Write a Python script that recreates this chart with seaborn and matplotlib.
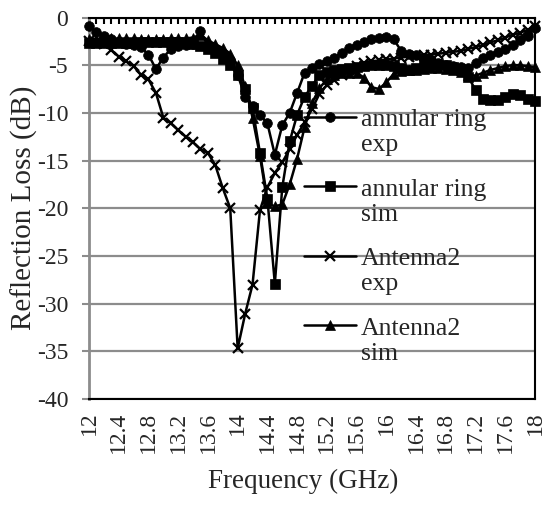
import numpy as np
import pandas as pd
import seaborn as sns
import matplotlib.pyplot as plt
from matplotlib.lines import Line2D
from matplotlib.legend_handler import HandlerLine2D

# === datos ===
freq = np.round(np.linspace(12, 18, 61), 1)

ring_exp = [-0.9, -1.5, -1.9, -2.3, -2.6, -2.8, -2.9, -3.1, -3.9, -5.4,
            -4.2, -3.3, -3.0, -2.9, -2.8, -1.4, -3.0, -3.3, -3.8, -4.5,
            -6.0, -8.3, -9.3, -10.2, -11.1, -14.4, -11.3, -10.0, -7.9, -5.8,
            -5.3, -4.9, -4.6, -4.2, -3.7, -3.2, -2.9, -2.6, -2.3, -2.1,
            -2.0, -2.3, -3.5, -3.8, -3.9, -4.2, -4.5, -4.8, -5.0, -5.1,
            -5.2, -5.3, -4.8, -4.2, -3.9, -3.6, -3.3, -2.9, -2.4, -1.9,
            -1.1]

ring_sim = [-2.7, -2.7, -2.7, -2.7, -2.7, -2.7, -2.7, -2.6, -2.6, -2.6,
            -2.6, -2.6, -2.6, -2.7, -2.8, -3.0, -3.3, -3.7, -4.3, -5.0,
            -6.0, -7.5, -9.5, -14.2, -19.0, -27.9, -17.8, -13.0, -10.2, -8.3,
            -7.2, -6.0, -5.7, -5.5, -5.4, -5.3, -5.2, -5.1, -5.0, -5.0,
            -5.0, -5.1, -5.3, -5.5, -5.3, -5.0, -4.9, -4.9, -5.0, -5.2,
            -5.5, -6.2, -7.6, -8.5, -8.7, -8.6, -8.3, -8.0, -8.1, -8.5,
            -8.8]

ant2_exp = [-2.5, -2.6, -2.8, -3.4, -4.1, -4.6, -5.1, -6.0, -6.5, -7.9,
            -10.5, -11.1, -11.8, -12.5, -13.1, -13.8, -14.2, -15.5, -17.9, -20.0,
            -34.7, -31.1, -28.0, -20.2, -17.8, -16.3, -15.2, -13.8, -12.3, -11.0,
            -9.6, -8.0, -7.1, -6.6, -6.0, -5.5, -5.1, -4.8, -4.6, -4.5,
            -4.4, -4.3, -4.2, -4.1, -4.0, -3.9, -3.9, -3.8, -3.7, -3.6,
            -3.5, -3.3, -3.1, -2.9, -2.6, -2.4, -2.1, -1.8, -1.6, -1.3,
            -0.9]

ant2_sim = [-2.3, -2.3, -2.2, -2.2, -2.2, -2.2, -2.2, -2.3, -2.3, -2.3,
            -2.3, -2.2, -2.2, -2.2, -2.1, -1.8, -2.4, -2.8, -3.2, -3.8,
            -5.0, -7.2, -10.5, -14.5, -19.5, -19.8, -19.6, -17.5, -14.8, -11.5,
            -9.0, -7.4, -6.5, -6.0, -5.8, -5.8, -5.8, -6.3, -7.3, -7.5,
            -6.8, -5.9, -5.6, -5.5, -5.5, -5.4, -5.3, -5.3, -5.4, -5.5,
            -5.7, -6.0, -6.1, -5.8, -5.5, -5.3, -5.1, -5.0, -5.0, -5.1,
            -5.2]

labels = ['annular ring\nexp', 'annular ring\nsim', 'Antenna2\nexp', 'Antenna2\nsim']
markers = ['o', 's', 'x', '^']
tick_freqs = [12, 12.4, 12.8, 13.2, 13.6, 14, 14.4, 14.8, 15.2, 15.6, 16, 16.4, 16.8, 17.2, 17.6, 18]
tick_text = ['12', '12.4', '12.8', '13.2', '13.6', '14', '14.4', '14.8', '15.2', '15.6',
             '16', '16.4', '16.8', '17.2', '17.6', '18']

# === estilo ===
sns.set_style('white')
plt.rcParams['font.family'] = ['Liberation Serif', 'DejaVu Serif']
plt.rcParams['axes.unicode_minus'] = False

fig = plt.figure(figsize=(5.44, 5.16), dpi=100)
ax = fig.add_axes([89 / 544, 1 - 399 / 516, 446 / 544, 381.5 / 516])

series = [ring_exp, ring_sim, ant2_exp, ant2_sim]
msize = {'o': 7, 's': 6.5, 'x': 6.5, '^': 7.5}
for vals, mk in zip(series, markers):
    sns.lineplot(x=freq, y=vals, ax=ax, color='k', lw=1.8, marker=mk,
                 markersize=msize[mk], markeredgewidth=1.6 if mk == 'x' else 0.5,
                 markeredgecolor='k', clip_on=False, zorder=3, legend=False)

ax.set_xlim(12, 18)
ax.set_ylim(-40, 0)
ax.set_yticks(range(-40, 1, 5))
ax.set_xticks(tick_freqs)
ax.set_xticklabels(tick_text, rotation=90)
ax.set_xticks(freq, minor=True)
ax.tick_params(axis='x', which='both', bottom=False, top=True, direction='in',
               length=4, width=1.5, color='k', labelsize=17, pad=9)
ax.tick_params(axis='y', which='major', left=True, direction='out', length=5,
               width=1.5, color='#8c8c8c', labelsize=17, pad=10)

ax.yaxis.grid(True, color='#8c8c8c', lw=1.6)
ax.xaxis.grid(False)
ax.set_axisbelow(True)

ax.spines['left'].set_color('#8c8c8c')
ax.spines['left'].set_linewidth(2)
for s in ['top', 'right', 'bottom']:
    ax.spines[s].set_color('k')
    ax.spines[s].set_linewidth(1.5)

ax.set_xlabel('Frequency (GHz)', fontsize=19.5)
ax.xaxis.set_label_coords(0.48, -0.183)
ax.set_ylabel('Reflection Loss (dB)', fontsize=21)
ax.yaxis.set_label_coords(-0.115, 0.5)


# el marcador de la leyenda va en la primera linea del texto
class UpHandler(HandlerLine2D):
    def create_artists(self, legend, orig_handle, xdescent, ydescent,
                       width, height, fontsize, trans):
        return super().create_artists(legend, orig_handle, xdescent,
                                      ydescent - 1.2 * fontsize, width, height,
                                      fontsize, trans)


handles = [Line2D([], [], color='k', lw=1.8, marker=mk, markersize=msize[mk],
                  markeredgewidth=1.6 if mk == 'x' else 0.5) for mk in markers]
leg = ax.legend(handles, labels, loc='upper left', bbox_to_anchor=(0.483, 0.76),
                frameon=False, fontsize=18.5, handlelength=2.0, handletextpad=0.2,
                labelspacing=0.86, borderpad=0, borderaxespad=0,
                handler_map={Line2D: UpHandler()})

plt.savefig('out.png', dpi=100)
